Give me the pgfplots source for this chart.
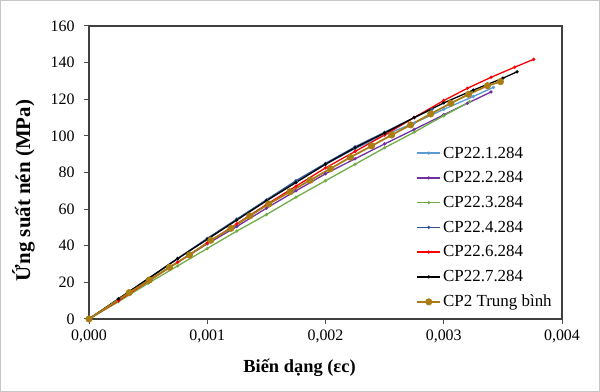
\documentclass[border=0pt]{standalone}
\usepackage{fontspec}
\setmainfont{Liberation Serif}
\usepackage{pgfplots}
\pgfplotsset{compat=1.18}
\definecolor{cLB}{RGB}{91,155,213}
\definecolor{cPU}{RGB}{112,48,160}
\definecolor{cGR}{RGB}{112,173,71}
\definecolor{cDB}{RGB}{47,85,151}
\definecolor{cRE}{RGB}{255,0,0}
\definecolor{cGO}{RGB}{170,125,20}
\begin{document}
\begin{tikzpicture}
\draw[gray!45, line width=1.2bp] (0.6bp,0.6bp) rectangle (599.4bp,391.4bp);
\begin{axis}[
  at={(89bp,73bp)}, anchor=south west,
  scale only axis, width=473bp, height=293bp,
  xmin=0, xmax=0.004, ymin=0, ymax=160,
  xtick={0,0.001,0.002,0.003,0.004},
  ytick={0,20,...,160},
  scaled x ticks=false,
  xticklabel style={yshift=-2bp, /pgf/number format/.cd, fixed, fixed zerofill, precision=3, use comma},
  /pgf/number format/assume math mode=true,
  tick align=outside, tick pos=left,
  major tick length=5bp,
  tick style={black!70, line width=1bp},
  axis line style={black!75, line width=1.2bp},
  ticklabel style={font=\fontsize{16}{18}\selectfont},
  yticklabel style={xshift=-6bp},
  xlabel={\textbf{Biến dạng (εc)}},
  ylabel={\textbf{Ứng suất nén (MPa)}},
  xlabel style={font=\fontsize{18.5}{20}\selectfont, xshift=-26bp, yshift=-10bp},
  ylabel style={font=\fontsize{21}{23}\selectfont, xshift=-18bp, yshift=9bp},
  legend style={draw=none, fill=none, at={(0.985,0.025)}, anchor=south east,
    font=\fontsize{17}{19}\selectfont, row sep=8bp, inner sep=1bp},
  legend cell align=left,
  legend image code/.code={
    \draw[#1] (0bp,0bp) -- (23bp,0bp);
    \draw[#1, only marks] plot coordinates {(11.5bp,0bp)};
  },
  every axis plot/.append style={line width=1.3bp, mark=*, mark size=0.9bp},
]
\addplot[cLB] coordinates {(0,0) (0.00025,11) (0.0005,22) (0.00075,33) (0.001,43.5) (0.00125,54.5) (0.0015,65) (0.00175,75) (0.002,84.5) (0.00225,93) (0.0025,100.5) (0.00275,107) (0.003,114.5) (0.00325,121.5) (0.00342,126.5)};
\addlegendentry{CP22.1.284}
\addplot[cPU] coordinates {(0,0) (0.00025,10.5) (0.0005,21) (0.00075,31) (0.001,41) (0.00125,50.5) (0.0015,60.5) (0.00175,70) (0.002,79.3) (0.00225,87.5) (0.0025,95.6) (0.00275,103.5) (0.003,111.5) (0.0032,117.8) (0.0034,124)};
\addlegendentry{CP22.2.284}
\addplot[cGR] coordinates {(0,0) (0.00025,9.5) (0.0005,19.5) (0.00075,29) (0.001,38.5) (0.00125,48) (0.0015,57) (0.00175,66.5) (0.002,75.5) (0.00225,84.5) (0.0025,93.5) (0.00275,102) (0.003,111) (0.00322,118.7)};
\addlegendentry{CP22.3.284}
\addplot[cDB] coordinates {(0,0) (0.00025,11) (0.0005,22) (0.00075,33) (0.001,44) (0.00125,54.5) (0.0015,65) (0.00175,75.5) (0.002,85) (0.00225,94) (0.0025,102) (0.00275,110) (0.0029,114.5)};
\addlegendentry{CP22.4.284}
\addplot[cRE] coordinates {(0,0) (0.00025,10) (0.0005,20.5) (0.00075,31) (0.001,41.5) (0.00125,52) (0.0015,62.5) (0.00175,72.5) (0.002,82.5) (0.00225,91.5) (0.0025,100.5) (0.00275,110) (0.003,119.3) (0.0032,126) (0.0034,132) (0.0036,137.5) (0.00376,141.8)};
\addlegendentry{CP22.6.284}
\addplot[black] coordinates {(0,0) (0.00025,11) (0.0005,22) (0.00075,33) (0.001,43.5) (0.00125,54) (0.0015,64.5) (0.00175,74.5) (0.002,84.5) (0.00225,93.5) (0.0025,101.5) (0.00275,110) (0.003,118) (0.00325,125) (0.0035,131.5) (0.00362,135)};
\addlegendentry{CP22.7.284}
\addplot[cGO, line width=1.8bp, mark size=2.6bp] coordinates {(0,0) (0.00034,14.4) (0.00051,21.3) (0.00068,28.2) (0.00085,35) (0.00103,43) (0.0012,49.5) (0.00136,56.3) (0.00152,62.8) (0.0017,69.5) (0.00187,75.8) (0.00204,82) (0.00221,88.3) (0.00239,94.5) (0.00256,100.5) (0.00272,106) (0.00289,112) (0.00306,117.8) (0.00321,122.7) (0.00337,127.4) (0.00348,129.6)};
\addlegendentry{CP2 Trung bình}
\end{axis}
\end{tikzpicture}
\end{document}
